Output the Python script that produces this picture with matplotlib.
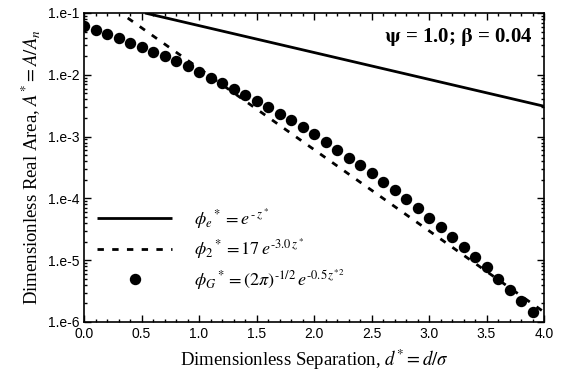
import numpy as np
import matplotlib
matplotlib.use("Agg")
import matplotlib.pyplot as plt
from matplotlib.ticker import LogLocator, NullFormatter, MultipleLocator

plt.rcParams['mathtext.fontset'] = 'stix'

# Data
exp_d = [0.53, 4.0]
exp_A = [0.1, 3.1e-3]

pow_d = [0.38, 4.0]
pow_A = [0.083, 1.45e-6]

gauss_d = [0.0, 0.1, 0.2, 0.3, 0.4, 0.5, 0.6, 0.7, 0.8, 0.9,
           1.0, 1.1, 1.2, 1.3, 1.4, 1.5, 1.6, 1.7, 1.8, 1.9,
           2.0, 2.1, 2.2, 2.3, 2.4, 2.5, 2.6, 2.7, 2.8, 2.9,
           3.0, 3.1, 3.2, 3.3, 3.4, 3.5, 3.6, 3.7, 3.8, 3.9]
gauss_logA = [-1.21, -1.275, -1.345, -1.41, -1.48, -1.55, -1.63, -1.70, -1.78, -1.86,
              -1.95, -2.05, -2.14, -2.23, -2.32, -2.42, -2.52, -2.63, -2.73, -2.84,
              -2.96, -3.08, -3.21, -3.34, -3.46, -3.59, -3.73, -3.87, -4.01, -4.16,
              -4.32, -4.47, -4.63, -4.79, -4.95, -5.11, -5.30, -5.48, -5.66, -5.84]
gauss_A = [10 ** v for v in gauss_logA]

ytick_vals = [1e-6, 1e-5, 1e-4, 1e-3, 1e-2, 1e-1]
ytick_labels = ['1.e-6', '1.e-5', '1.e-4', '1.e-3', '1.e-2', '1.e-1']
xtick_vals = [0.0, 0.5, 1.0, 1.5, 2.0, 2.5, 3.0, 3.5, 4.0]
xtick_labels = ['0.0', '0.5', '1.0', '1.5', '2.0', '2.5', '3.0', '3.5', '4.0']

fig = plt.figure(figsize=(5.62, 3.79), dpi=100)
ax = fig.add_axes([0.1495, 0.1504, 0.8185, 0.8153])

ax.plot(exp_d, exp_A, color='black', lw=2.0, solid_capstyle='butt',
        label=r'$\phi_e{}^* = e^{\,\text{-}\,z^*}$')
ax.plot(pow_d, pow_A, color='black', lw=2.0, linestyle=(0, (2.3, 3.0)),
        label=r'$\phi_2{}^* = 17\,e^{\text{-}3.0\,z^*}$')
ax.plot(gauss_d, gauss_A, linestyle='none', marker='o', ms=7.2, color='black',
        label=r'$\phi_G{}^* = (2\pi)^{\text{-}1/2}\,e^{\text{-}0.5\,z^{*2}}$')

ax.set_yscale('log')
ax.set_xlim(0, 4.0)
ax.set_ylim(1e-6, 1e-1)

ax.set_yticks(ytick_vals)
ax.set_yticklabels(ytick_labels, family='Liberation Sans', fontsize=10)
ax.yaxis.set_minor_locator(LogLocator(base=10, subs=np.arange(2, 10)))
ax.yaxis.set_minor_formatter(NullFormatter())
ax.set_xticks(xtick_vals)
ax.set_xticklabels(xtick_labels, family='Liberation Sans', fontsize=10)
ax.xaxis.set_minor_locator(MultipleLocator(0.1))

ax.tick_params(which='both', direction='in', top=True, right=True, width=1)
ax.tick_params(which='major', length=5)
ax.tick_params(which='minor', length=2.5)
for s in ax.spines.values():
    s.set_linewidth(1.2)

ax.set_xlabel(r'Dimensionless Separation, $d^{*} = d/\sigma$',
              family='Liberation Serif', fontsize=13.5, labelpad=5)
ax.set_ylabel(r'Dimensionless Real Area, $A^{*} = A/A_n$',
              family='Liberation Serif', fontsize=13.5, labelpad=3)

ax.text(0.975, 0.922, r'$\mathbf{\psi}$ = 1.0; $\mathbf{\beta}$ = 0.04',
        transform=ax.transAxes, ha='right', va='center',
        family='Liberation Serif', fontsize=15, fontweight='bold')

leg = ax.legend(loc='lower left', bbox_to_anchor=(0.0, 0.057), frameon=False,
                fontsize=13, handlelength=4.2, handletextpad=1.2,
                labelspacing=0.3, borderaxespad=0.3)

fig.savefig('out.png', dpi=100)
